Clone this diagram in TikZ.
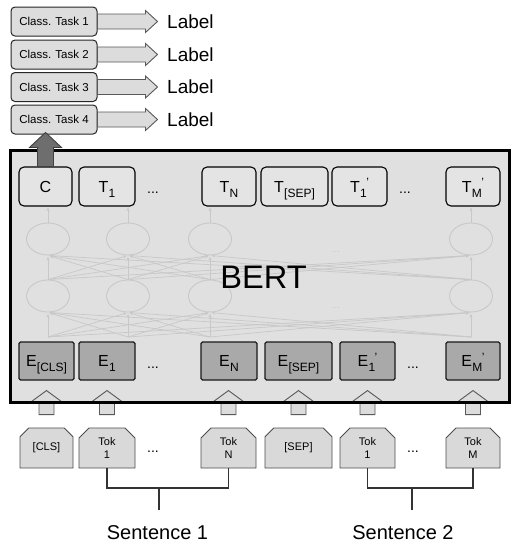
\documentclass[tikz,border=0pt]{standalone}
\usepackage{fontspec}
\setmainfont{Liberation Sans}
\usetikzlibrary{shapes.misc,shapes.geometric,calc,arrows.meta}
\definecolor{bgbert}{HTML}{E0E0E0}
\definecolor{tfill}{HTML}{E4E4E4}
\definecolor{taskfill}{HTML}{DDDDDD}
\definecolor{efill}{HTML}{A9A9A9}
\definecolor{tokfill}{HTML}{D9D9D9}
\definecolor{arrfill}{HTML}{DCDCDC}
\definecolor{arrdark}{HTML}{6E6E6E}
\definecolor{netline}{HTML}{C8C8C8}
\newcommand\smallsub[1]{\raisebox{-5pt}{\fontsize{12}{12}\selectfont #1}}
\newcommand\tsb[2]{#1\kern0.3pt\smallsub{#2}}
\newcommand\tsbp[2]{#1\kern0.3pt\smallsub{#2}\kern-0.5pt\raisebox{5.5pt}{\fontsize{12}{12}\selectfont '}}
\tikzset{
  taskbox/.style={draw=black!85, fill=taskfill, rounded corners=4pt, line width=1pt,
    minimum width=86pt, minimum height=29pt, inner sep=0pt, font=\fontsize{11.5}{12}\selectfont},
  lbl/.style={anchor=west, inner sep=0pt, font=\fontsize{19}{20}\selectfont},
  blockarr/.style={draw=black!65, fill=arrfill, line width=0.9pt, line join=miter},
  darkarr/.style={draw=black!75, fill=arrdark, line width=0.9pt, line join=miter},
  tbox/.style={draw=black, fill=tfill, rounded corners=5pt, line width=1.1pt,
    minimum height=39pt, inner sep=0pt, text height=11.6pt, text depth=0pt,
    font=\fontsize{16}{16}\selectfont},
  ebox/.style={draw=black!90, fill=efill, rounded corners=1.5pt, line width=1.1pt,
    minimum height=38pt, inner sep=0pt, text height=11.6pt, text depth=0pt,
    font=\fontsize{16}{16}\selectfont},
  tokbox/.style={chamfered rectangle, chamfered rectangle corners={north west,north east},
    chamfered rectangle xsep=6.5pt, draw=black!70, fill=tokfill, line width=0.9pt,
    minimum height=40pt, inner sep=0pt, align=center, font=\fontsize{11}{13}\selectfont},
  dotsn/.style={anchor=base, inner sep=0pt, font=\fontsize{14}{14}\selectfont},
  neuron/.style={ellipse, draw=netline, line width=0.9pt, minimum width=43pt, minimum height=32pt, inner sep=0pt},
  netarr/.style={draw=netline, line width=0.7pt, -{Stealth[length=3.5pt,width=3pt]}},
  fdots/.style={inner sep=0pt, text=netline, font=\fontsize{10}{10}\selectfont},
  sent/.style={inner sep=0pt, font=\fontsize{20}{20}\selectfont},
  brk/.style={draw=black!80, line width=1.1pt}
}
\begin{document}
\begin{tikzpicture}[x=1pt,y=-1pt]
\useasboundingbox (0,0) rectangle (512,547);

% task boxes and labels
\node[taskbox] (c1) at (54,21.5) {Class. Task 1};
\node[taskbox] (c2) at (54,54.5) {Class. Task 2};
\node[taskbox] (c3) at (54,87) {Class. Task 3};
\node[taskbox] (c4) at (54,119.5) {Class. Task 4};
\foreach \i in {1,...,4}{
  \draw[blockarr] (c\i.east) ++(0,-7.5) -- ++(48,0) -- ++(0,-3.5) -- ++(12,11) -- ++(-12,11) -- ++(0,-3.5) -- ++(-48,0) -- cycle;
}
\node[lbl] (l1) at (167,21.5) {Label};
\node[lbl] (l2) at (167,54.5) {Label};
\node[lbl] (l3) at (167,87) {Label};
\node[lbl] (l4) at (167,119.5) {Label};

% BERT box background
\fill[bgbert] (10,150) rectangle (509.5,402);

% network
\foreach \x [count=\i] in {48,128,210,471}{
  \node[neuron] (u\i) at (\x,239) {};
  \node[neuron] (d\i) at (\x,296) {};
  \coordinate (e\i) at (\x,337);
  \draw[netarr] (u\i.north) -- ++(0,-15);
}
\foreach \i in {1,...,4}{
  \foreach \j in {1,...,4}{
    \draw[netarr, shorten >=1.5pt] (d\i.north) -- (u\j.south);
    \draw[netarr, shorten >=1.5pt] (e\i) -- (d\j.south);
  }
}
\node[fdots] (fd1) at (336,252) {...};
\node[fdots] (fd2) at (336,308) {...};

\node[inner sep=0pt, font=\fontsize{32.6}{33}\selectfont] (bert) at (263.5,277.5) {BERT};

% T row
\node[tbox, minimum width=53pt] (tC) at (45.5,186.5) {C};
\node[tbox, minimum width=56pt] (t1) at (107,186.5) {\tsb{T}{1}};
\node[tbox, minimum width=54pt] (tN) at (229,186.5) {\tsb{T}{N}};
\node[tbox, minimum width=67pt] (tS) at (294.5,186.5) {\tsb{T}{[SEP]}};
\node[tbox, minimum width=55pt] (t1b) at (359.5,186.5) {\tsbp{T}{1}};
\node[tbox, minimum width=54pt] (tM) at (473,186.5) {\tsbp{T}{M}};
\node[dotsn] (td1) at (153,193) {...};
\node[dotsn] (td2) at (405,193) {...};

% E row
\node[ebox, minimum width=55pt] (eC) at (46.5,361) {\tsb{E}{[CLS]}};
\node[ebox, minimum width=56pt] (e1n) at (107,361) {\tsb{E}{1}};
\node[ebox, minimum width=56pt] (eN) at (229,361) {\tsb{E}{N}};
\node[ebox, minimum width=67pt] (eS) at (298.5,361) {\tsb{E}{[SEP]}};
\node[ebox, minimum width=55pt] (e1b) at (367.5,361) {\tsbp{E}{1}};
\node[ebox, minimum width=54pt] (eM) at (473,361) {\tsbp{E}{M}};
\node[dotsn] (ed1) at (153,368) {...};
\node[dotsn] (ed2) at (413,368) {...};

% token row
\node[tokbox, minimum width=53pt] (kC) at (46.5,448) {[CLS]};
\node[tokbox, minimum width=56pt] (k1) at (107,448) {Tok\\1};
\node[tokbox, minimum width=55pt] (kN) at (228.5,448) {Tok\\N};
\node[tokbox, minimum width=67pt] (kS) at (298.5,448) {[SEP]};
\node[tokbox, minimum width=55pt] (k1b) at (367.5,448) {Tok\\1};
\node[tokbox, minimum width=54pt] (kM) at (473,448) {Tok\\M};
\node[dotsn] (kd1) at (153,452) {...};
\node[dotsn] (kd2) at (413,452) {...};

% up arrows from tokens to embeddings
\foreach \k in {kC,k1,kN,kS,k1b,kM}{
  \draw[blockarr] ($(\k.north)+(-7.5,-13)$) -- ++(0,-13) -- ++(-7.5,0) -- ++(15,-11) -- ++(15,11) -- ++(-7.5,0) -- ++(0,13) -- cycle;
}

% BERT border
\draw[line width=3pt] (10,150) rectangle (509.5,402);

% dark arrow from C to task 4
\draw[darkarr] (tC.north) ++(-8,0) -- ++(0,-19) -- ++(-8,0) -- ++(16,-15) -- ++(16,15) -- ++(-8,0) -- ++(0,19) -- cycle;

% sentence brackets
\coordinate (b1) at (159,488);
\coordinate (b1e) at (159,510);
\coordinate (b2) at (412,488);
\coordinate (b2e) at (412,510);
\draw[brk] (k1.south) |- (b1) -| (kN.south);
\draw[brk] (b1) -- (b1e);
\draw[brk] (k1b.south) |- (b2) -| (kM.south);
\draw[brk] (b2) -- (b2e);
\node[sent] (s1) at (157.5,532.5) {Sentence 1};
\node[sent] (s2) at (403,532.5) {Sentence 2};
\end{tikzpicture}
\end{document}
